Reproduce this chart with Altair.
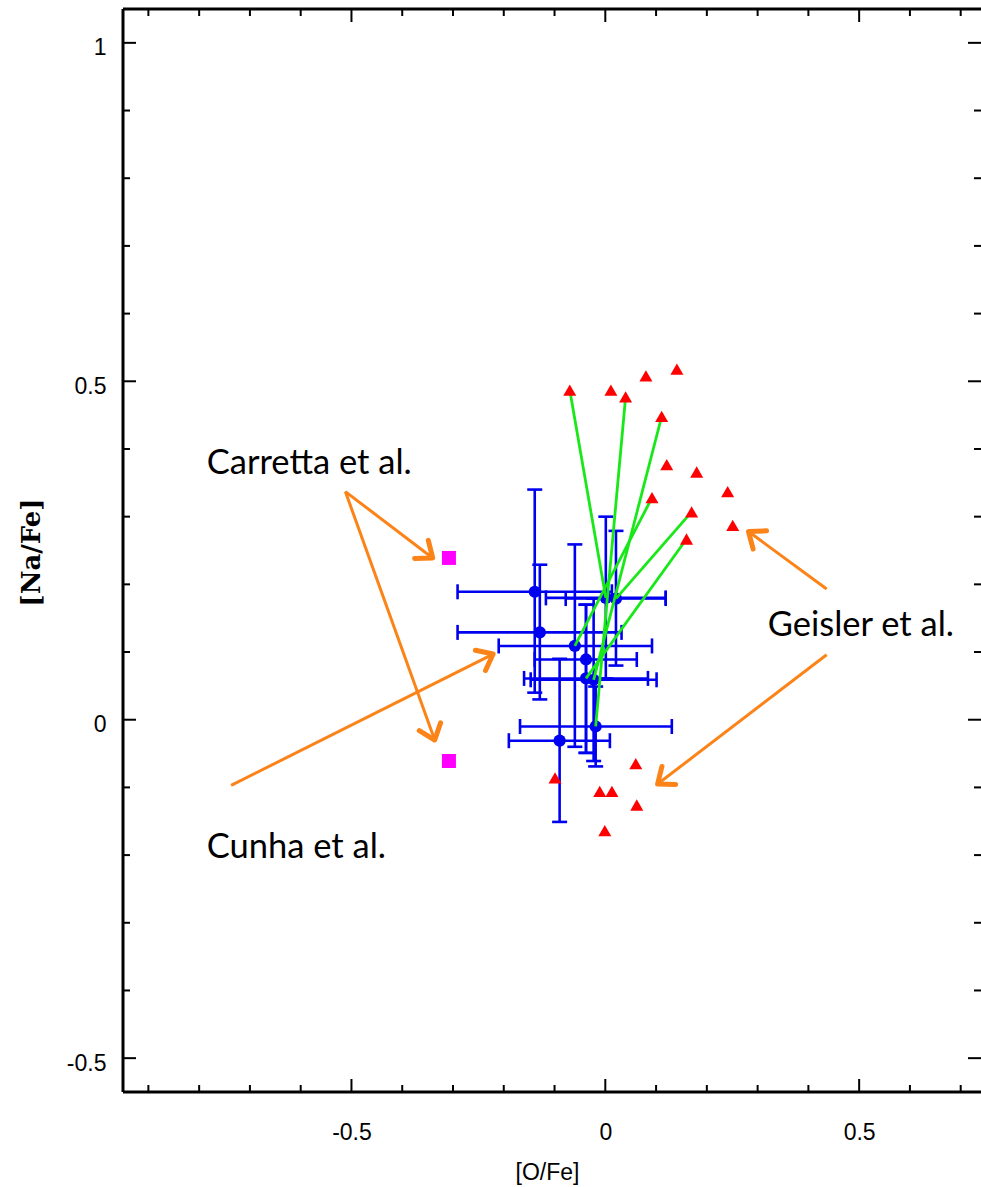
import math
import altair as alt
import pandas as pd

# ---------------- data ----------------
# Geisler et al. (red triangles)
geisler_ofe = [-0.070, 0.011, 0.040, 0.080, 0.141, 0.111, 0.121, 0.180, 0.092, 0.241,
               0.170, 0.251, 0.160, -0.099, -0.011, 0.013, 0.060, 0.062, -0.001]
geisler_nafe = [0.487, 0.487, 0.477, 0.508, 0.518, 0.448, 0.377, 0.366, 0.328, 0.337,
                0.307, 0.287, 0.267, -0.086, -0.106, -0.106, -0.065, -0.126, -0.164]

# Carretta et al. (magenta squares)
carretta_ofe = [-0.308, -0.308]
carretta_nafe = [0.239, -0.061]

# Cunha et al. (blue points with error bars)
cunha_ofe = [-0.139, -0.129, -0.060, -0.038, -0.038, -0.023, 0.001, 0.021, -0.019, -0.090]
cunha_nafe = [0.189, 0.129, 0.109, 0.089, 0.061, 0.059, 0.180, 0.179, -0.010, -0.031]
cunha_ofe_lo = [-0.291, -0.291, -0.210, -0.139, -0.160, -0.147, -0.117, -0.078, -0.168, -0.190]
cunha_ofe_hi = [0.013, 0.032, 0.092, 0.062, 0.084, 0.101, 0.119, 0.119, 0.131, 0.009]
cunha_nafe_lo = [0.040, 0.030, -0.040, -0.049, -0.049, -0.061, 0.061, 0.080, -0.069, -0.151]
cunha_nafe_hi = [0.340, 0.229, 0.259, 0.170, 0.170, 0.179, 0.300, 0.279, 0.049, 0.090]

# green links: (Geisler index, Cunha index)
link_geisler = [0, 2, 5, 8, 10, 12]
link_cunha = [6, 8, 5, 2, 7, 4]

# annotations
label_text = ["Carretta et al.", "Cunha et al.", "Geisler et al."]
label_ofe = [-0.785, -0.785, 0.320]
label_nafe = [0.363, -0.204, 0.123]

arrow_tail_ofe = [-0.512, -0.512, -0.737, 0.436, 0.436]
arrow_tail_nafe = [0.337, 0.337, -0.097, 0.193, 0.096]
arrow_head_ofe = [-0.340, -0.336, -0.221, 0.282, 0.103]
arrow_head_nafe = [0.239, -0.030, 0.097, 0.278, -0.095]

# axes
x_domain = [-0.95, 0.74]
y_domain = [-0.55, 1.05]
x_label_values = [-0.5, 0, 0.5]
y_label_values = [-0.5, 0, 0.5, 1]
x_major_ticks = [-0.5, 0.0, 0.5]
x_minor_ticks = [-0.9, -0.8, -0.7, -0.6, -0.4, -0.3, -0.2, -0.1, 0.1, 0.2, 0.3, 0.4, 0.6, 0.7]
y_major_ticks = [-0.5, 0.0, 0.5, 1.0]
y_minor_ticks = [-0.4, -0.3, -0.2, -0.1, 0.1, 0.2, 0.3, 0.4, 0.6, 0.7, 0.8, 0.9]

# ---------------- layout ----------------
W, H = 858, 1083
sx = W / (x_domain[1] - x_domain[0])
sy = H / (y_domain[1] - y_domain[0])

xs = alt.Scale(domain=x_domain, nice=False, zero=False)
ys = alt.Scale(domain=y_domain, nice=False, zero=False)

label_expr = ("datum.value == 0 ? '0' : datum.value == 1 ? '1' : "
              "(datum.value < 0 ? '-' + format(-datum.value, '.1f') : format(datum.value, '.1f'))")

x_axis = alt.Axis(values=x_label_values, ticks=False, tickSize=0, domain=False, grid=False,
                  labelExpr=label_expr,
                  labelFont="Liberation Sans", labelFontSize=23, labelColor="black",
                  labelBaseline="middle", labelPadding=40, labelFlush=False,
                  title="[O/Fe]", titleFont="Liberation Sans", titleFontSize=23,
                  titleFontWeight="normal", titleColor="black",
                  titleX=424, titleY=80, titleBaseline="middle", titleAlign="center")
y_axis = alt.Axis(values=y_label_values, ticks=False, tickSize=0, domain=False, grid=False,
                  labelExpr=label_expr,
                  labelFont="Liberation Sans", labelFontSize=23, labelColor="black",
                  labelPadding=17, labelOffset=5, labelFlush=False,
                  title="[Na/Fe]", titleFont="DejaVu Serif", titleFontSize=26,
                  titleFontWeight="bold", titleColor="black", titleAngle=270,
                  titleX=-92, titleY=543, titleBaseline="middle", titleAlign="center")


def X(field):
    return alt.X(field, type="quantitative", scale=xs, axis=x_axis)


def Y(field):
    return alt.Y(field, type="quantitative", scale=ys, axis=y_axis)


cunha = pd.DataFrame({"ofe": cunha_ofe, "nafe": cunha_nafe,
                      "ofe_lo": cunha_ofe_lo, "ofe_hi": cunha_ofe_hi,
                      "nafe_lo": cunha_nafe_lo, "nafe_hi": cunha_nafe_hi})
geisler = pd.DataFrame({"ofe": geisler_ofe, "nafe": geisler_nafe})
carretta = pd.DataFrame({"ofe": carretta_ofe, "nafe": carretta_nafe})
links = pd.DataFrame({
    "ofe": [geisler_ofe[i] for i in link_geisler],
    "nafe": [geisler_nafe[i] for i in link_geisler],
    "ofe2": [cunha_ofe[j] for j in link_cunha],
    "nafe2": [cunha_nafe[j] for j in link_cunha],
})
labels = pd.DataFrame({"text": label_text, "ofe": label_ofe, "nafe": label_nafe})

angles = []
for x0, y0, x1, y1 in zip(arrow_tail_ofe, arrow_tail_nafe, arrow_head_ofe, arrow_head_nafe):
    dxp = (x1 - x0) * sx
    dyp = -(y1 - y0) * sy
    angles.append(math.degrees(math.atan2(dyp, dxp)) % 360)
arrows = pd.DataFrame({"ofe": arrow_tail_ofe, "nafe": arrow_tail_nafe,
                       "ofe2": arrow_head_ofe, "nafe2": arrow_head_nafe,
                       "angle": angles})

BLUE = "#0000f0"
ORANGE = "#fb8318"

# error bars
hbars = alt.Chart(cunha).mark_rule(color=BLUE, strokeWidth=2.6).encode(
    x=X("ofe_lo"), x2="ofe_hi", y=Y("nafe"))
vbars = alt.Chart(cunha).mark_rule(color=BLUE, strokeWidth=2.6).encode(
    x=X("ofe"), y=Y("nafe_lo"), y2="nafe_hi")
cap_style = dict(color=BLUE, size=15, thickness=2.6, opacity=1)
caps_l = alt.Chart(cunha).mark_tick(orient="vertical", **cap_style).encode(
    x=X("ofe_lo"), y=Y("nafe"))
caps_r = alt.Chart(cunha).mark_tick(orient="vertical", **cap_style).encode(
    x=X("ofe_hi"), y=Y("nafe"))
caps_b = alt.Chart(cunha).mark_tick(orient="horizontal", **cap_style).encode(
    x=X("ofe"), y=Y("nafe_lo"))
caps_t = alt.Chart(cunha).mark_tick(orient="horizontal", **cap_style).encode(
    x=X("ofe"), y=Y("nafe_hi"))
dots = alt.Chart(cunha).mark_point(shape="circle", filled=True, color=BLUE, opacity=1,
                                   size=150).encode(x=X("ofe"), y=Y("nafe"))

green = alt.Chart(links).mark_rule(color="#18e818", strokeWidth=2.8).encode(
    x=X("ofe"), y=Y("nafe"), x2="ofe2", y2="nafe2")

tri = alt.Chart(geisler).mark_point(shape="triangle-up", filled=True, color="#ff0000",
                                    opacity=1, size=170).encode(x=X("ofe"), y=Y("nafe"))
sq = alt.Chart(carretta).mark_point(shape="square", filled=True, color="#ff00ff",
                                    opacity=1, size=196).encode(x=X("ofe"), y=Y("nafe"))

arrow_lines = alt.Chart(arrows).mark_rule(color=ORANGE, strokeWidth=3).encode(
    x=X("ofe"), y=Y("nafe"), x2="ofe2", y2="nafe2")
arrow_heads = alt.Chart(arrows).mark_point(
    shape="M -1 -0.8 L 0 0 L -1 0.8", filled=False, color=ORANGE, opacity=1,
    strokeWidth=5, strokeCap="round", strokeJoin="round", size=800).encode(
    x=X("ofe2"), y=Y("nafe2"), angle=alt.Angle("angle:Q", scale=None))

texts = alt.Chart(labels).mark_text(font="Lato", fontSize=34.5, align="left",
                                    baseline="alphabetic", color="black").encode(
    x=X("ofe"), y=Y("nafe"), text="text:N")

# frame and inward ticks
one = pd.DataFrame({"k": [0]})
frame_top = alt.Chart(one).mark_rule(color="black", strokeWidth=3).encode(
    x=alt.value(0), x2=alt.value(W), y=alt.value(0))
frame_left = alt.Chart(one).mark_rule(color="black", strokeWidth=3).encode(
    x=alt.value(0), y=alt.value(0), y2=alt.value(H))
frame_bottom = alt.Chart(one).mark_rule(color="black", strokeWidth=3).encode(
    x=alt.value(0), x2=alt.value(W), y=alt.value(H))

xt_major = pd.DataFrame({"v": x_major_ticks})
xt_minor = pd.DataFrame({"v": x_minor_ticks})
yt_major = pd.DataFrame({"v": y_major_ticks})
yt_minor = pd.DataFrame({"v": y_minor_ticks})


def xticks(df, length):
    bottom = alt.Chart(df).mark_rule(color="black", strokeWidth=2).encode(
        x=X("v"), y=alt.value(H), y2=alt.value(H - length))
    top = alt.Chart(df).mark_rule(color="black", strokeWidth=2).encode(
        x=X("v"), y=alt.value(0), y2=alt.value(length))
    return [bottom, top]


def yticks(df, length):
    left = alt.Chart(df).mark_rule(color="black", strokeWidth=2).encode(
        y=Y("v"), x=alt.value(0), x2=alt.value(length))
    right = alt.Chart(df).mark_rule(color="black", strokeWidth=2).encode(
        y=Y("v"), x=alt.value(W), x2=alt.value(W - length))
    return [left, right]


tick_layers = xticks(xt_major, 13) + xticks(xt_minor, 7) + yticks(yt_major, 13) + yticks(yt_minor, 7)

chart = alt.layer(
    hbars, vbars, caps_l, caps_r, caps_b, caps_t, dots, green, tri, sq,
    arrow_lines, arrow_heads, texts,
    *tick_layers, frame_top, frame_left, frame_bottom,
).properties(
    width=W, height=H,
    padding={"left": 123, "top": 9, "right": 0, "bottom": 95},
    autosize=alt.AutoSizeParams(type="none"),
    background="white",
).configure_view(stroke=None)

chart.save("out.html", embed_options={"renderer": "svg", "actions": False})
